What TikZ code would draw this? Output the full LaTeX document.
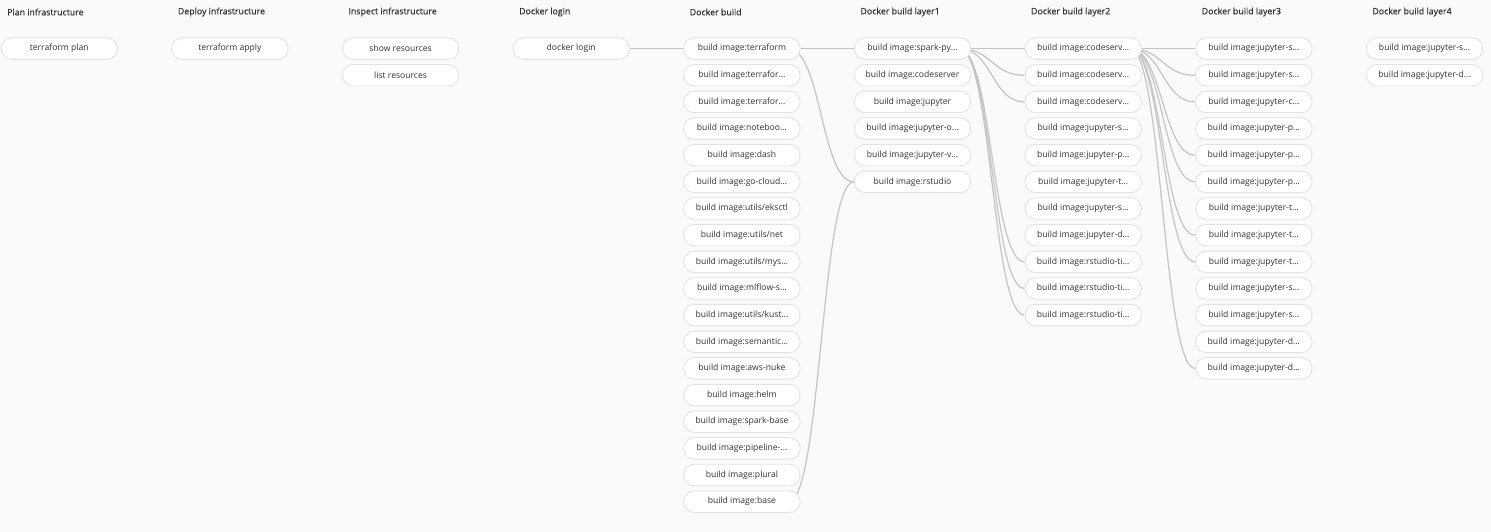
\documentclass[tikz,border=0pt]{standalone}
\usepackage{fontspec}
\setmainfont{Open Sans}
\newfontfamily\stagefont[FakeBold=0.35]{Open Sans}
\usepackage{tikz}
\usetikzlibrary{calc, backgrounds}
\usepackage{xcolor}

\definecolor{canvas}{HTML}{FAFAFA}
\definecolor{jobborder}{HTML}{E3E3E3}
\definecolor{linkgrey}{HTML}{C4C4C4}
\definecolor{jobtext}{HTML}{333333}

\tikzset{
    job/.style={draw=jobborder, fill=white, line width=0.9pt, rounded corners=10.5pt,
        minimum width=116.5pt, minimum height=21.5pt, inner sep=0pt,
        text=jobtext, font=\fontsize{8.6}{10}\selectfont},
    stage/.style={anchor=west, inner sep=0pt, text=jobtext,
        font=\stagefont\fontsize{8.8}{10}\selectfont},
    link/.style={draw=linkgrey, line width=1.2pt,
        to path={let \p1=(\tikztostart), \p2=(\tikztotarget) in
            .. controls ({0.5*\x1+0.5*\x2}, \y1) and ({0.5*\x1+0.5*\x2}, \y2) .. (\tikztotarget)}},
}

\begin{document}
\begin{tikzpicture}[x=1pt, y=1pt]
    \useasboundingbox (0, 0) rectangle (1491, -532);

    % stage titles
    \node[stage] (s-plan) at (7, -12) {Plan infrastructure};
    \node[stage] (s-deploy) at (177.7, -12) {Deploy infrastructure};
    \node[stage] (s-inspect) at (348.3, -12) {Inspect infrastructure};
    \node[stage] (s-login) at (519, -12) {Docker login};
    \node[stage] (s-build) at (689.6, -12) {Docker build};
    \node[stage] (s-layer1) at (860.3, -12) {Docker build layer1};
    \node[stage] (s-layer2) at (1030.9, -12) {Docker build layer2};
    \node[stage] (s-layer3) at (1201.6, -12) {Docker build layer3};
    \node[stage] (s-layer4) at (1372.2, -12) {Docker build layer4};

    % infrastructure jobs
    \node[job] (plan) at (59.3, -48.6) {terraform plan};
    \node[job] (apply) at (229.9, -48.6) {terraform apply};
    \node[job] (show) at (400.6, -48.6) {show resources};
    \node[job] (list) at (400.6, -75.3) {list resources};
    \node[job] (login) at (571.2, -48.6) {docker login};

    % docker build
    \node[job] (b1) at (741.9, -48.6) {build image:terraform};
    \node[job] (b2) at (741.9, -75.3) {build image:terrafor…};
    \node[job] (b3) at (741.9, -101.9) {build image:terrafor…};
    \node[job] (b4) at (741.9, -128.6) {build image:noteboo…};
    \node[job] (b5) at (741.9, -155.2) {build image:dash};
    \node[job] (b6) at (741.9, -181.9) {build image:go-cloud…};
    \node[job] (b7) at (741.9, -208.5) {build image:utils/eksctl};
    \node[job] (b8) at (741.9, -235.2) {build image:utils/net};
    \node[job] (b9) at (741.9, -261.8) {build image:utils/mys…};
    \node[job] (b10) at (741.9, -288.5) {build image:mlflow-s…};
    \node[job] (b11) at (741.9, -315.1) {build image:utils/kust…};
    \node[job] (b12) at (741.9, -341.8) {build image:semantic…};
    \node[job] (b13) at (741.9, -368.4) {build image:aws-nuke};
    \node[job] (b14) at (741.9, -395.1) {build image:helm};
    \node[job] (b15) at (741.9, -421.7) {build image:spark-base};
    \node[job] (b16) at (741.9, -448.4) {build image:pipeline-…};
    \node[job] (b17) at (741.9, -475) {build image:plural};
    \node[job] (b18) at (741.9, -501.7) {build image:base};

    % layer1
    \node[job] (l1-1) at (912.5, -48.6) {build image:spark-py…};
    \node[job] (l1-2) at (912.5, -75.3) {build image:codeserver};
    \node[job] (l1-3) at (912.5, -101.9) {build image:jupyter};
    \node[job] (l1-4) at (912.5, -128.6) {build image:jupyter-o…};
    \node[job] (l1-5) at (912.5, -155.2) {build image:jupyter-v…};
    \node[job] (l1-6) at (912.5, -181.9) {build image:rstudio};

    % layer2
    \node[job] (l2-1) at (1083.2, -48.6) {build image:codeserv…};
    \node[job] (l2-2) at (1083.2, -75.3) {build image:codeserv…};
    \node[job] (l2-3) at (1083.2, -101.9) {build image:codeserv…};
    \node[job] (l2-4) at (1083.2, -128.6) {build image:jupyter-s…};
    \node[job] (l2-5) at (1083.2, -155.2) {build image:jupyter-p…};
    \node[job] (l2-6) at (1083.2, -181.9) {build image:jupyter-t…};
    \node[job] (l2-7) at (1083.2, -208.5) {build image:jupyter-s…};
    \node[job] (l2-8) at (1083.2, -235.2) {build image:jupyter-d…};
    \node[job] (l2-9) at (1083.2, -261.8) {build image:rstudio-ti…};
    \node[job] (l2-10) at (1083.2, -288.5) {build image:rstudio-ti…};
    \node[job] (l2-11) at (1083.2, -315.1) {build image:rstudio-ti…};

    % layer3
    \node[job] (l3-1) at (1253.8, -48.6) {build image:jupyter-s…};
    \node[job] (l3-2) at (1253.8, -75.3) {build image:jupyter-s…};
    \node[job] (l3-3) at (1253.8, -101.9) {build image:jupyter-c…};
    \node[job] (l3-4) at (1253.8, -128.6) {build image:jupyter-p…};
    \node[job] (l3-5) at (1253.8, -155.2) {build image:jupyter-p…};
    \node[job] (l3-6) at (1253.8, -181.9) {build image:jupyter-p…};
    \node[job] (l3-7) at (1253.8, -208.5) {build image:jupyter-t…};
    \node[job] (l3-8) at (1253.8, -235.2) {build image:jupyter-t…};
    \node[job] (l3-9) at (1253.8, -261.8) {build image:jupyter-t…};
    \node[job] (l3-10) at (1253.8, -288.5) {build image:jupyter-s…};
    \node[job] (l3-11) at (1253.8, -315.1) {build image:jupyter-s…};
    \node[job] (l3-12) at (1253.8, -341.8) {build image:jupyter-d…};
    \node[job] (l3-13) at (1253.8, -368.4) {build image:jupyter-d…};

    % layer4
    \node[job] (l4-1) at (1424.5, -48.6) {build image:jupyter-s…};
    \node[job] (l4-2) at (1424.5, -75.3) {build image:jupyter-d…};

    \begin{pgfonlayer}{background}
        \fill[canvas] (0, 0) rectangle (1491, -532);

        \draw[link] ([xshift=-12pt]login.east) to (b1.west);
        \draw[link] ([xshift=-12pt]b1.east) to (l1-1.west);
        \draw[link] ([xshift=-12pt]b1.east) to (l1-6.west);
        \draw[link] ([xshift=-12pt]b18.east) to (l1-6.west);

        \draw[link] ([xshift=-12pt]l1-1.east) to (l2-1.west);
        \draw[link] ([xshift=-12pt]l1-1.east) to (l2-2.west);
        \draw[link] ([xshift=-12pt]l1-1.east) to (l2-3.west);
        \draw[link] ([xshift=-12pt]l1-1.east) to (l2-9.west);
        \draw[link] ([xshift=-12pt]l1-1.east) to (l2-10.west);
        \draw[link] ([xshift=-12pt]l1-1.east) to (l2-11.west);

        \draw[link] ([xshift=-12pt]l2-1.east) to (l3-1.west);
        \draw[link] ([xshift=-12pt]l2-1.east) to (l3-2.west);
        \draw[link] ([xshift=-12pt]l2-1.east) to (l3-3.west);
        \draw[link] ([xshift=-12pt]l2-1.east) to (l3-5.west);
        \draw[link] ([xshift=-12pt]l2-1.east) to (l3-6.west);
        \draw[link] ([xshift=-12pt]l2-1.east) to (l3-8.west);
        \draw[link] ([xshift=-12pt]l2-1.east) to (l3-9.west);
        \draw[link] ([xshift=-12pt]l2-1.east) to (l3-13.west);
    \end{pgfonlayer}
\end{tikzpicture}
\end{document}
